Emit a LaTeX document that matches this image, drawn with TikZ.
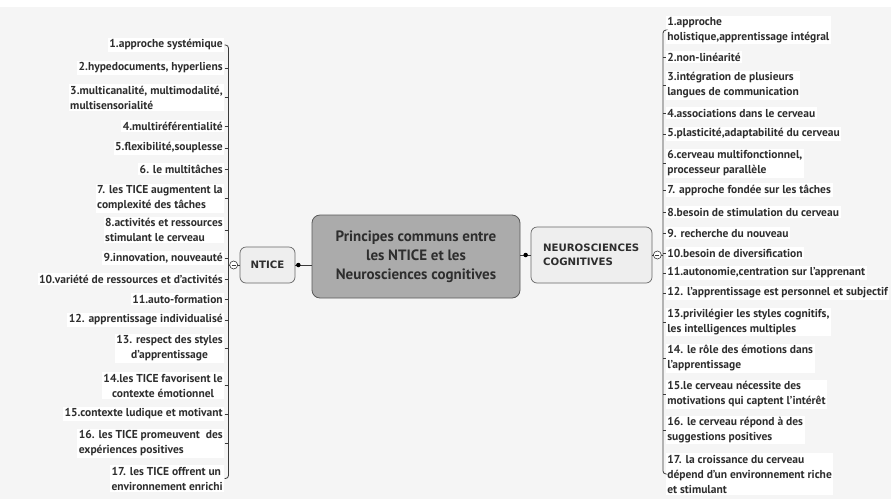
\documentclass[tikz,border=0pt]{standalone}
\usepackage{fontspec}
\setmainfont{PT Sans}
\newfontfamily\capsfont{DejaVu Sans}
\definecolor{txt}{HTML}{2E2E2E}
\definecolor{linec}{HTML}{3A3A3A}
\definecolor{bgc}{HTML}{F5F5F5}
\definecolor{mainfill}{HTML}{ABABAB}
\definecolor{subfill}{HTML}{EEEEEE}
\begin{document}
\begin{tikzpicture}[x=1pt,y=-1pt,
  item/.style={fill=white, inner sep=1.6pt, text=txt,
    font=\bfseries\fontsize{11.5}{15}\selectfont},
  litem/.style={item, anchor=east, align=left},
  ritem/.style={item, anchor=west, align=left},
  conn/.style={draw=linec, line width=0.8pt},
  mainbox/.style={draw=black!65, line width=0.8pt, fill=mainfill, rounded corners=8pt,
    minimum width=208pt, minimum height=83pt, align=center, text=txt,
    font=\bfseries\fontsize{15}{19}\selectfont},
  subbox/.style={draw=black!60, line width=0.7pt, fill=subfill, rounded corners=6pt,
    text=txt, font=\capsfont\bfseries\fontsize{10.2}{14}\selectfont},
  knot/.style={circle, fill=black, inner sep=0pt, minimum size=4.5pt},
  toggle/.style={circle, draw=linec, fill=white, line width=0.6pt, inner sep=0pt,
    minimum size=8pt, path picture={\draw[linec, line width=0.6pt]
      ([xshift=-2pt]path picture bounding box.center) -- ([xshift=2pt]path picture bounding box.center);}}
]
% canvas
\useasboundingbox (0,0) rectangle (891,499);
\fill[white] (0,0) rectangle (891,7);
\fill[bgc] (0,7) rectangle (891,499);

% central topic and its two branches
\node[mainbox] (main) at (416,256.5) {Principes communs entre\\les NTICE et les\\Neurosciences cognitives};
\node[subbox, minimum width=55pt, minimum height=36pt] (ntice) at (267.5,265) {NTICE};
\node[subbox, minimum width=121pt, minimum height=56pt, align=left] (neuro) at (591.5,255)
  {NEUROSCIENCES\\COGNITIVES\hspace*{27pt}};

\draw[conn] (ntice.east) -- (ntice.east -| main.west);
\node[knot] at ([xshift=3pt]ntice.east) {};
\draw[conn] (neuro.west) -- (neuro.west -| main.east);
\node[knot] at ([xshift=-5pt]neuro.west) {};

% spines
\coordinate (sL) at (228.5,0);
\coordinate (sR) at (663,0);

% NTICE items
\node[litem] (l1) at (224.5,45) {1.approche systémique};
\node[litem] (l2) at (224.5,68) {2.hypedocuments, hyperliens};
\node[litem] (l3) at (224.5,97.5) {3.multicanalité, multimodalité,\\multisensorialité};
\node[litem] (l4) at (224.5,126) {4.multiréférentialité};
\node[litem] (l5) at (224.5,148) {5.flexibilité,souplesse};
\node[litem] (l6) at (224.5,169) {6. le multitâches};
\node[litem] (l7) at (224.5,198.5) {7. les TICE augmentent la\\complexité des tâches};
\node[litem] (l8) at (224.5,230) {8.activités et ressources\\stimulant le cerveau};
\node[litem] (l9) at (224.5,258) {9.innovation, nouveauté};
\node[litem] (l10) at (224.5,279) {10.variété de ressources et d'activités};
\node[litem] (l11) at (224.5,299) {11.auto-formation};
\node[litem] (l12) at (224.5,320) {12. apprentissage individualisé};
\node[litem, align=center] (l13) at (224.5,348.5) {13. respect des styles\\d'apprentissage};
\node[litem, align=center] (l14) at (224.5,385.5) {14.les TICE favorisent le\\contexte émotionnel};
\node[litem] (l15) at (224.5,414) {15.contexte ludique et motivant};
\node[litem] (l16) at (224.5,443.5) {16. les TICE promeuvent~ des\\expériences positives};
\node[litem] (l17) at (224.5,478.5) {17. les TICE offrent un\\environnement enrichi};

% NEUROSCIENCES items
\node[ritem] (r1) at (665.5,30) {1.approche\\holistique,apprentissage intégral};
\node[ritem] (r2) at (665.5,57) {2.non-linéarité};
\node[ritem] (r3) at (665.5,85.5) {3.intégration de plusieurs\\langues de communication};
\node[ritem] (r4) at (665.5,113) {4.associations dans le cerveau};
\node[ritem] (r5) at (665.5,134) {5.plasticité,adaptabilité du cerveau};
\node[ritem] (r6) at (665.5,163.5) {6.cerveau multifonctionnel,\\processeur parallèle};
\node[ritem] (r7) at (665.5,190) {7. approche fondée sur les tâches};
\node[ritem] (r8) at (665.5,212) {8.besoin de stimulation du cerveau};
\node[ritem] (r9) at (665.5,233) {9. recherche du nouveau};
\node[ritem] (r10) at (665.5,253) {10.besoin de diversification};
\node[ritem] (r11) at (665.5,273) {11.autonomie,centration sur l'apprenant};
\node[ritem] (r12) at (665.5,293) {12. l'apprentissage est personnel et subjectif};
\node[ritem] (r13) at (665.5,322) {13.privilégier les styles cognitifs,\\les intelligences multiples};
\node[ritem] (r14) at (665.5,358.5) {14. le rôle des émotions dans\\l'apprentissage};
\node[ritem] (r15) at (665.5,394.5) {15.le cerveau nécessite des\\motivations qui captent l'intérêt};
\node[ritem] (r16) at (665.5,430) {16. le cerveau répond à des\\suggestions positives};
\node[ritem] (r17) at (665.5,474) {17. la croissance du cerveau\\dépend d'un environnement riche\\et stimulant};

% left spine and ticks
\draw[conn, rounded corners=3pt] (l1.east) -| (sL |- l17.east) -- (l17.east);
\foreach \i in {2,...,16} \draw[conn] (l\i.east) -- (l\i.east -| sL);
\draw[conn] (ntice.west) -- (ntice.west -| sL);
\node[toggle] at ([xshift=-6pt]ntice.west) {};

% right spine and ticks
\draw[conn, rounded corners=3pt] (r1.west) -| (sR |- r17.west) -- (r17.west);
\foreach \i in {2,...,16} \draw[conn] (r\i.west) -- (r\i.west -| sR);
\draw[conn] (neuro.east) -- (neuro.east -| sR);
\node[toggle] at ([xshift=5pt]neuro.east) {};
\end{tikzpicture}
\end{document}
